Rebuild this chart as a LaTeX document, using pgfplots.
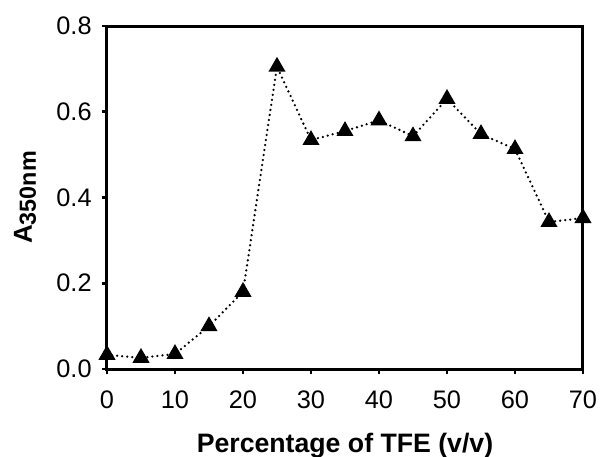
\documentclass[border=0pt]{standalone}
\usepackage{fontspec}
\setmainfont{Liberation Sans}
\usepackage{pgfplots}
\pgfplotsset{compat=1.18}
\begin{document}
\begin{tikzpicture}
\begin{axis}[
    name=ax,
    scale only axis,
    width=357pt, height=257.25pt,
    xmin=0, xmax=70, ymin=0, ymax=0.8,
    xtick={0,10,...,70},
    ytick={0,0.2,...,0.8},
    yticklabel style={xshift=-4pt, /pgf/number format/fixed,
        /pgf/number format/fixed zerofill, /pgf/number format/precision=1},
    /pgf/number format/assume math mode=true,
    tick label style={font=\fontsize{19}{22}\selectfont},
    xticklabel style={yshift=-9pt},
    tick align=outside,
    tick pos=left,
    major tick length=4pt,
    tick style={line width=2pt, black},
    axis line style={line width=2.25pt},
    xlabel={\textbf{Percentage of TFE (v/v)}},
    ylabel={\textbf{\fontsize{19.5}{22}\selectfont A\raisebox{-3pt}{\fontsize{17.5}{20}\selectfont 350nm}}},
    xlabel style={font=\fontsize{20}{23}\selectfont,
        at={(axis description cs:0.5,0)}, anchor=center, yshift=-57.5pt},
    ylabel style={at={(axis description cs:0,0.5)}, anchor=center, yshift=61.5pt},
    clip=false,
]
\addplot[black, line width=1.9pt, line cap=round, dash pattern=on 0pt off 3.8pt,
    mark=triangle*, mark size=5.5pt, mark options={solid}]
coordinates {
    (0,0.033) (5,0.026) (10,0.035) (15,0.100) (20,0.180)
    (25,0.705) (30,0.534) (35,0.555) (40,0.580) (45,0.543)
    (50,0.630) (55,0.548) (60,0.513) (65,0.343) (70,0.352)
};
\end{axis}
\pgfresetboundingbox
\path[use as bounding box] ([shift={(-80.25pt,-66pt)}]ax.south west) rectangle ([shift={(369.75pt,276.75pt)}]ax.south west);
\end{tikzpicture}
\end{document}
